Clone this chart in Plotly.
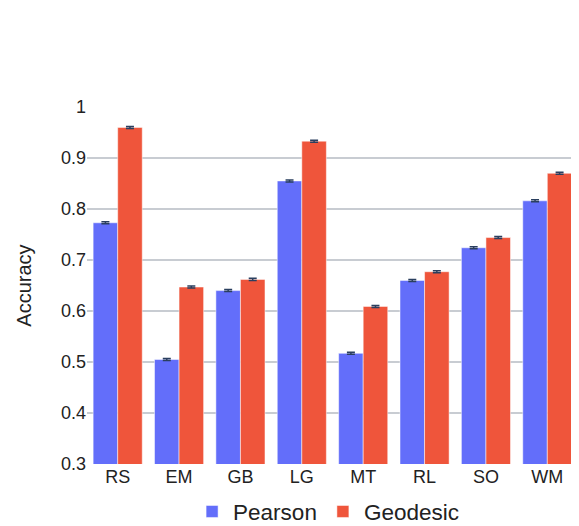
import plotly.graph_objects as go

categories = ["RS", "EM", "GB", "LG", "MT", "RL", "SO", "WM"]
pearson = [0.773, 0.505, 0.640, 0.855, 0.517, 0.660, 0.724, 0.816]
geodesic = [0.960, 0.647, 0.662, 0.933, 0.609, 0.677, 0.744, 0.870]
pearson_err = [0.002, 0.002, 0.002, 0.002, 0.002, 0.002, 0.002, 0.002]
geodesic_err = [0.002, 0.002, 0.002, 0.002, 0.002, 0.002, 0.002, 0.002]

err_style = dict(type="data", visible=True, color="#2a3f5f", thickness=1.5, width=4)

fig = go.Figure()
fig.add_trace(go.Bar(
    name="Pearson", x=categories, y=pearson,
    error_y=dict(array=pearson_err, **err_style),
    marker=dict(color="#636efa", line=dict(color="white", width=0.5)),
))
fig.add_trace(go.Bar(
    name="Geodesic", x=categories, y=geodesic,
    error_y=dict(array=geodesic_err, **err_style),
    marker=dict(color="#EF553B", line=dict(color="white", width=0.5)),
))

fig.update_layout(
    template="plotly_white",
    width=571, height=526,
    margin=dict(l=79, r=1, t=99, b=70),
    barmode="group",
    bargap=0.2,
    bargroupgap=0,
    font=dict(family="Liberation Sans, Arial, sans-serif", size=18, color="#222"),
    paper_bgcolor="white",
    plot_bgcolor="white",
    legend=dict(orientation="h", x=0.49, xanchor="center", y=-0.134, yanchor="middle",
                font=dict(size=22.5), itemwidth=32),
    xaxis=dict(showgrid=False, tickfont=dict(size=18)),
    yaxis=dict(
        title=dict(text="Accuracy", font=dict(size=20), standoff=23),
        range=[0.3, 1.0], dtick=0.1,
        gridcolor="rgb(200,204,210)", gridwidth=2,
        tickfont=dict(size=18), zeroline=False,
    ),
)

fig.write_html("out.html")
